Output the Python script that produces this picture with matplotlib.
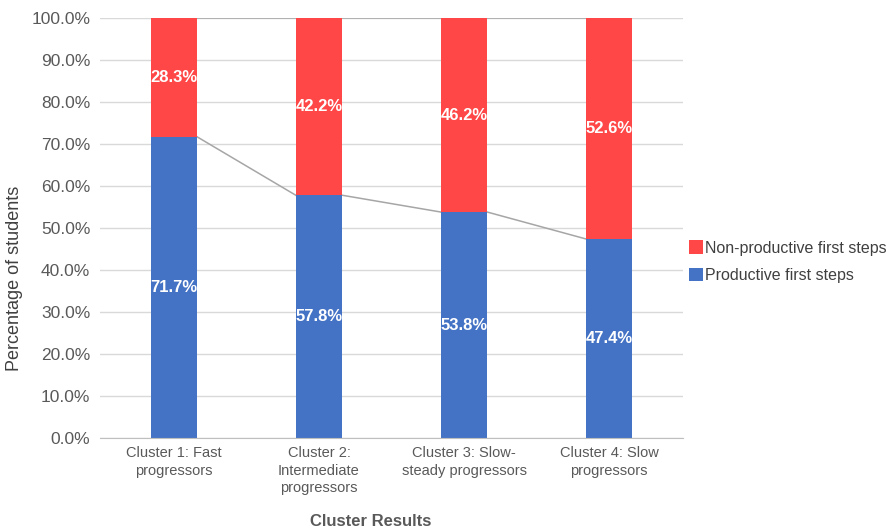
import numpy as np
import matplotlib.pyplot as plt

plt.rcParams['font.family'] = ['Liberation Sans', 'DejaVu Sans']

# cluster labels and percentage of first steps per cluster
clusters = ["Cluster 1: Fast\nprogressors", "Cluster 2:\nIntermediate\nprogressors",
            "Cluster 3: Slow-\nsteady progressors", "Cluster 4: Slow\nprogressors"]
productive = [71.7, 57.8, 53.8, 47.4]
non_productive = [28.3, 42.2, 46.2, 52.6]
yticks = [0, 10, 20, 30, 40, 50, 60, 70, 80, 90, 100]

blue = '#4472C4'
red = '#FF4747'
text_gray = '#595959'

fig = plt.figure(figsize=(8.94, 5.31), dpi=100)
ax = fig.add_axes([100 / 894, 1 - 438 / 531, 583 / 894, 420 / 531])

x = np.arange(len(clusters))
width = 0.32
ax.bar(x, productive, width, color=blue, label='Productive first steps', zorder=3)
ax.bar(x, non_productive, width, bottom=productive, color=red,
       label='Non-productive first steps', zorder=3)

# series lines joining the bar edges
tops = np.array(productive) + np.array(non_productive)
for i in range(len(x) - 1):
    ax.plot([x[i] + width / 2, x[i + 1] - width / 2], [productive[i], productive[i + 1]],
            color='#A6A6A6', lw=1.1, zorder=2)
    ax.plot([x[i] + width / 2, x[i + 1] - width / 2], [tops[i], tops[i + 1]],
            color='#A6A6A6', lw=1.1, zorder=2)

for i in range(len(x)):
    ax.text(x[i], productive[i] / 2, f"{productive[i]:.1f}%", color='white',
            fontsize=12, fontweight='bold', ha='center', va='center', zorder=4)
    ax.text(x[i], productive[i] + non_productive[i] / 2, f"{non_productive[i]:.1f}%",
            color='white', fontsize=12, fontweight='bold', ha='center', va='center', zorder=4)

ax.set_xlim(-0.51, 3.51)
ax.set_ylim(0, 100)
ax.set_yticks(yticks)
ax.set_yticklabels([f"{t:.1f}%" for t in yticks], fontsize=12.5, color=text_gray)
ax.set_xticks(x)
ax.set_xticklabels(clusters, fontsize=10.5, color=text_gray, linespacing=1.3)
ax.tick_params(axis='y', length=0, pad=7)
ax.tick_params(axis='x', length=0, pad=6)
ax.grid(axis='y', color='#D9D9D9', lw=1, zorder=0)
for s in ['top', 'right', 'left']:
    ax.spines[s].set_visible(False)
ax.spines['bottom'].set_color('#BFBFBF')
ax.spines['bottom'].set_zorder(4)

# axis titles placed in figure pixels so they stay inside the canvas
fig.text(15 / 894, 1 - 278 / 531, 'Percentage of students', rotation=90, fontsize=13,
         color='#404040', ha='center', va='center')
fig.text(371 / 894, 1 - 522 / 531, 'Cluster Results', fontsize=12, fontweight='bold',
         color=text_gray, ha='center', va='center')

handles, labels = ax.get_legend_handles_labels()
ax.legend(handles[::-1], labels[::-1], loc='center left', bbox_to_anchor=(0.985, 0.42),
          frameon=False, fontsize=11.5, handlelength=0.9, handleheight=0.9,
          handletextpad=0.1, labelspacing=0.75, labelcolor='#404040')

fig.savefig('out.png', dpi=100)
